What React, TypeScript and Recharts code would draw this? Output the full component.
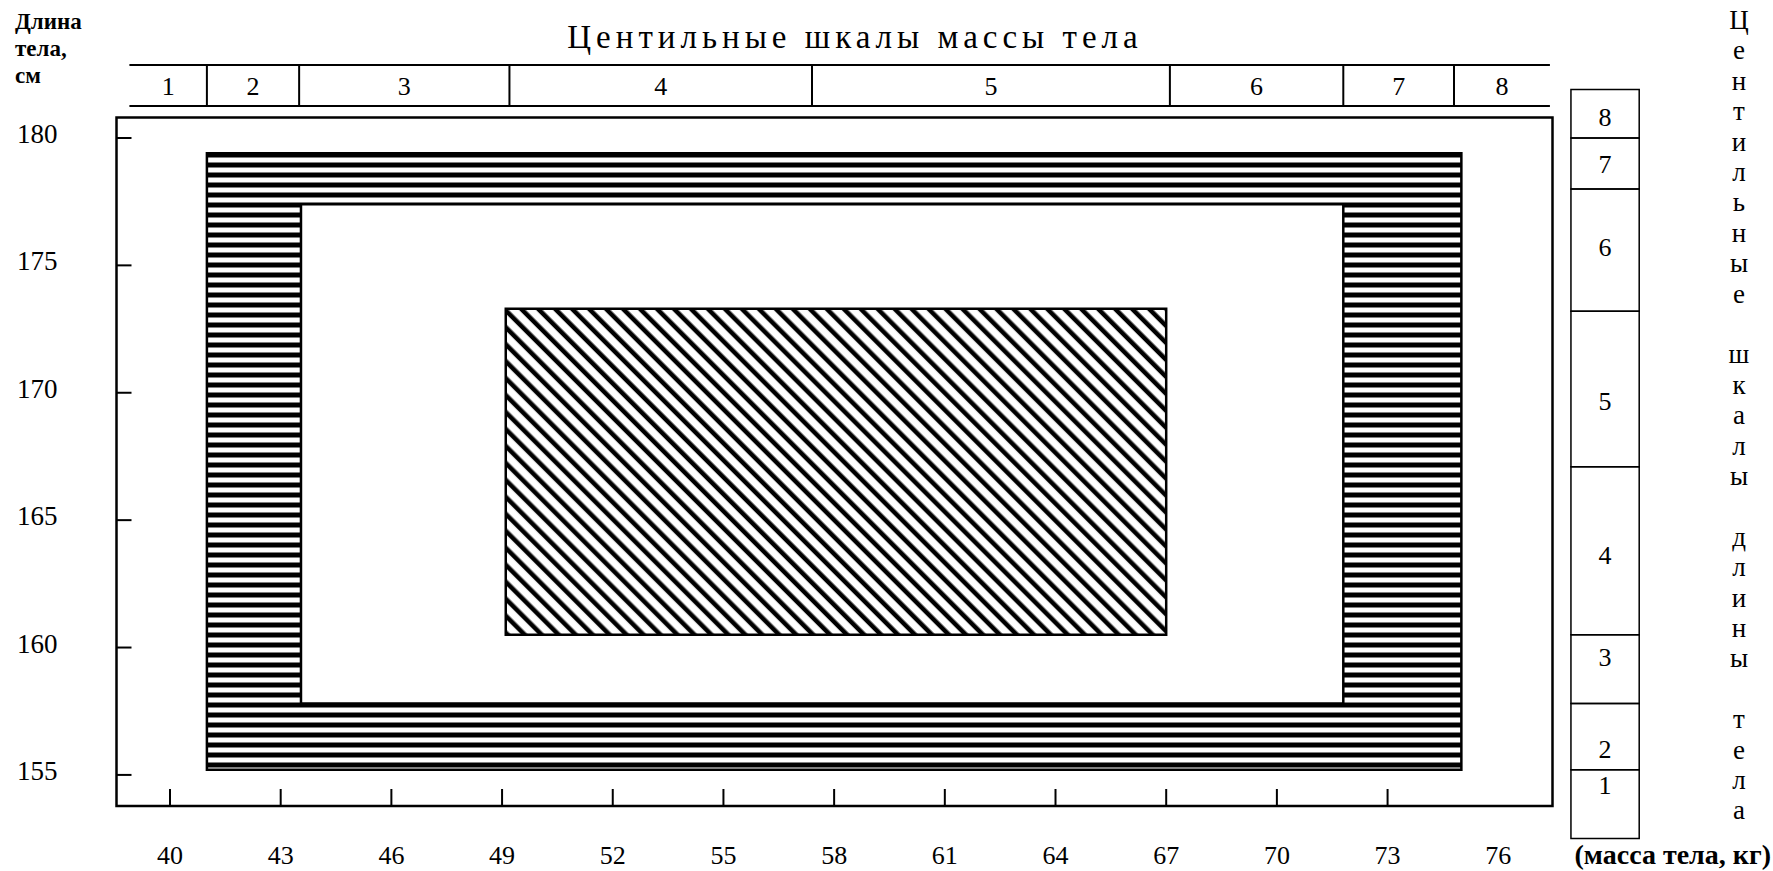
import React from 'react';
import { ComposedChart, XAxis, YAxis, ReferenceArea, ReferenceLine } from 'recharts';

// ticks
const massTicks = [40, 43, 46, 49, 52, 55, 58, 61, 64, 67, 70, 73, 76];
const massTickMarks = [40, 43, 46, 49, 52, 55, 58, 61, 64, 67, 70, 73]; // 76 has no mark in the original
const lengthTicks = [155, 160, 165, 170, 175, 180];

// centile scales (edges of the 8 corridors)
const centileLabels = ['1', '2', '3', '4', '5', '6', '7', '8'];
const massCentileBounds = [38.9, 41.0, 43.5, 49.2, 57.4, 67.1, 71.8, 74.8, 77.4];
const lengthCentileBounds = [152.5, 155.2, 157.8, 160.5, 167.1, 173.2, 178.0, 180.0, 181.9];

// zones: outer striped band, white middle, diagonal core
const zoneMass = [[41.0, 75.0], [43.55, 71.8], [49.1, 67.0]];
const zoneLength = [[155.2, 179.4], [157.8, 177.4], [160.5, 173.3]];

const titleText = 'Центильные шкалы массы тела';
const sideText = 'Центильные шкалы длины тела';
const yTitleLines = ['Длина', 'тела,', 'см'];
const xTitleText = '(масса тела, кг)';

const W = 1773;
const H = 871;
const FONT = "'Liberation Serif', 'DejaVu Serif', serif";
const MASS_DOMAIN = [38.55, 77.47];
const LENGTH_DOMAIN = [153.78, 180.8];
const BAND_Y = [181.26, 182.86];
const COLUMN_X = [77.97, 79.82];
const zoneFill = ['url(#hstripe)', '#ffffff', 'url(#dstripe)'];
// small vertical nudges of the column labels, as placed in the original
const columnLabelDy = [0, 0, -12, 4, 12, -3, 0, 3];
const txt = { fontFamily: FONT };

const MassTick = (props: any) => {
  const { x, y, payload } = props;
  const v = payload.value;
  return (
    <g>
      {massTickMarks.includes(v) && (
        <line x1={x} x2={x} y1={y - 17} y2={y} stroke="#000" strokeWidth={2} />
      )}
      <text x={x} y={y + 58} textAnchor="middle" fontSize={26} style={txt} fill="#000">
        {v}
      </text>
    </g>
  );
};

const LengthTick = (props: any) => {
  const { x, y, payload } = props;
  return (
    <g>
      <line x1={x} x2={x + 15} y1={y} y2={y} stroke="#000" strokeWidth={2} />
      <text x={17} y={y + 5} textAnchor="start" fontSize={27} style={txt} fill="#000">
        {payload.value}
      </text>
    </g>
  );
};

export default function App() {
  // one letter per row, blank row between words
  const sideRows: string[] = [];
  sideText.split(' ').forEach((word, i) => {
    if (i > 0) sideRows.push('');
    word.split('').forEach(ch => sideRows.push(ch));
  });

  return (
    <div style={{ position: 'absolute', left: 0, top: 0, width: W, height: H, background: '#fff', fontFamily: FONT }}>
      <ComposedChart
        width={W}
        height={H}
        margin={{ top: 117.6, right: W - 1552.5, bottom: H - 806 - 1, left: 116.5 - 1 }}
      >
        <defs>
          <pattern id="hstripe" patternUnits="userSpaceOnUse" width={10} height={10}>
            <rect x={0} y={0} width={10} height={10} fill="#fff" />
            <rect x={0} y={2.5} width={10} height={5} fill="#000" />
          </pattern>
          <pattern
            id="dstripe"
            patternUnits="userSpaceOnUse"
            width={12}
            height={12}
            patternTransform="rotate(45)"
          >
            <rect x={0} y={0} width={12} height={12} fill="#fff" />
            <rect x={0} y={3.5} width={12} height={4.6} fill="#000" />
          </pattern>
        </defs>

        <XAxis
          type="number"
          dataKey="x"
          domain={MASS_DOMAIN}
          allowDataOverflow
          ticks={massTicks}
          interval={0}
          height={1}
          tickSize={0}
          tickMargin={0}
          tickLine={false}
          axisLine={false}
          tick={<MassTick />}
        />
        <YAxis
          type="number"
          dataKey="y"
          domain={LENGTH_DOMAIN}
          allowDataOverflow
          ticks={lengthTicks}
          interval={0}
          width={1}
          tickSize={0}
          tickMargin={0}
          tickLine={false}
          axisLine={false}
          tick={<LengthTick />}
        />

        {zoneMass.map((m, i) => (
          <ReferenceArea
            key={'zone' + i}
            x1={m[0]}
            x2={m[1]}
            y1={zoneLength[i][0]}
            y2={zoneLength[i][1]}
            fill={zoneFill[i]}
            fillOpacity={1}
            stroke="#000"
            strokeWidth={2.5}
            ifOverflow="visible"
          />
        ))}

        {/* plot frame */}
        <ReferenceArea
          x1={MASS_DOMAIN[0]}
          x2={MASS_DOMAIN[1]}
          y1={LENGTH_DOMAIN[0]}
          y2={LENGTH_DOMAIN[1]}
          fill="none"
          stroke="#000"
          strokeWidth={2.5}
          ifOverflow="visible"
        />

        {/* mass centile band on top */}
        {centileLabels.map((lab, i) => (
          <ReferenceArea
            key={'mc' + i}
            x1={massCentileBounds[i]}
            x2={massCentileBounds[i + 1]}
            y1={BAND_Y[0]}
            y2={BAND_Y[1]}
            fill="none"
            stroke="none"
            ifOverflow="visible"
            label={{ value: lab, position: 'center', fontSize: 26, fill: '#000', style: txt }}
          />
        ))}
        {BAND_Y.map((yv, i) => (
          <ReferenceLine
            key={'bh' + i}
            segment={[
              { x: massCentileBounds[0], y: yv },
              { x: massCentileBounds[massCentileBounds.length - 1], y: yv },
            ]}
            stroke="#000"
            strokeWidth={2}
            ifOverflow="visible"
          />
        ))}
        {massCentileBounds.slice(1, -1).map((xv, i) => (
          <ReferenceLine
            key={'bv' + i}
            segment={[
              { x: xv, y: BAND_Y[0] },
              { x: xv, y: BAND_Y[1] },
            ]}
            stroke="#000"
            strokeWidth={2}
            ifOverflow="visible"
          />
        ))}

        {/* length centile column on the right */}
        {centileLabels.map((lab, i) => (
          <ReferenceArea
            key={'lc' + i}
            x1={COLUMN_X[0]}
            x2={COLUMN_X[1]}
            y1={lengthCentileBounds[i]}
            y2={lengthCentileBounds[i + 1]}
            fill="none"
            stroke="#000"
            strokeWidth={1.5}
            ifOverflow="visible"
            label={{
              value: lab,
              position: i === 0 ? 'insideTop' : i === 1 ? 'insideBottom' : 'center',
              offset: i === 0 ? 6 : 12,
              dy: columnLabelDy[i],
              fontSize: 26,
              fill: '#000',
              style: txt,
            }}
          />
        ))}

        <text
          x={855}
          y={48}
          textAnchor="middle"
          fontSize={33}
          letterSpacing={5}
          style={txt}
          fill="#000"
        >
          {titleText}
        </text>
        {yTitleLines.map((t, i) => (
          <text key={'yt' + i} x={15} y={29 + i * 27} fontSize={23} fontWeight="bold" style={txt} fill="#000">
            {t}
          </text>
        ))}
        <text x={1771} y={864} textAnchor="end" fontSize={28} fontWeight="bold" style={txt} fill="#000">
          {xTitleText}
        </text>
        {sideRows.map((ch, i) =>
          ch ? (
            <text
              key={'sr' + i}
              x={1739}
              y={29 + i * 30.4}
              textAnchor="middle"
              fontSize={27}
              style={txt}
              fill="#000"
            >
              {ch}
            </text>
          ) : null
        )}
      </ComposedChart>
    </div>
  );
}
